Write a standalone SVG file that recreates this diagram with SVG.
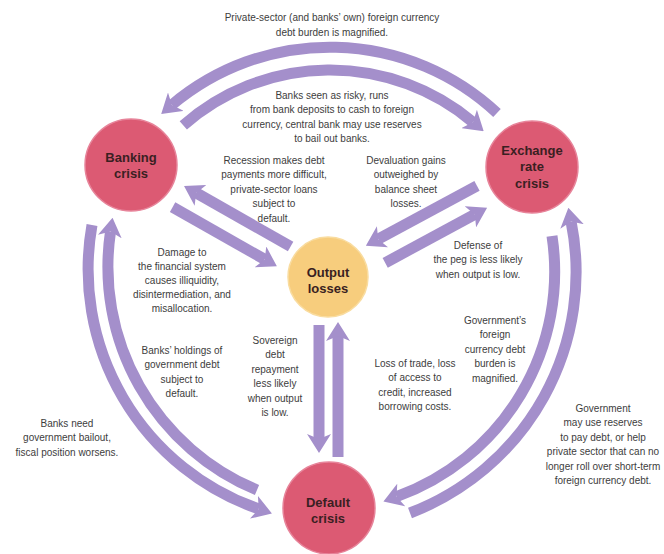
<svg xmlns="http://www.w3.org/2000/svg" width="664" height="554" viewBox="0 0 664 554">
<style>
.band{fill:none;stroke:#a48fcb;stroke-width:11;stroke-linecap:butt;marker-end:url(#head)}
.crisis{fill:#dc5a73;stroke:#e7849a;stroke-width:1.5}
.output{fill:#f7cd7d;stroke:#f9dc9f;stroke-width:1.5}
.node{font-family:"Liberation Sans",Arial,sans-serif;font-weight:bold;font-size:13px;fill:#3a1f22;text-anchor:middle}
.lbl{font-family:"Liberation Sans",Arial,sans-serif;font-size:10px;fill:#3d3d3d;text-anchor:middle}
</style>
<defs>
<marker id="head" markerUnits="userSpaceOnUse" viewBox="0 -12 19 24" refX="5" refY="0" markerWidth="19" markerHeight="24" orient="auto">
<path d="M0,-12 L19,0 L0,12 L5,0 Z" fill="#a48fcb"/>
</marker>
</defs>
<rect width="664" height="554" fill="#ffffff"/>
<g id="connectors">
<path class="band" d="M497,113 A245,245 0 0 0 171.9,104.9"/>
<path class="band" d="M183.3,125.4 A222,222 0 0 1 473,122.2"/>
<path class="band" d="M92,225 A253.6,253.6 0 0 0 258.7,508.9"/>
<path class="band" d="M257,490 A241.5,241.5 0 0 1 110.5,231.6"/>
<path class="band" d="M410,513 A257.7,257.7 0 0 0 571.1,221.6"/>
<path class="band" d="M552,236 A239.1,239.1 0 0 1 396.6,496.7"/>
<path class="band" d="M172.6,207.1 L264.7,259.4"/>
<path class="band" d="M290.6,246.5 L196.2,192.9"/>
<path class="band" d="M477,185.9 L378.2,239.2"/>
<path class="band" d="M385.2,262.8 L474.8,214.4"/>
<path class="band" d="M319,325 L319,439"/>
<path class="band" d="M338,457 L338,336"/>
</g>
<g id="banking-crisis">
<circle class="crisis" cx="131" cy="165" r="46"/>
<text class="node" x="131" y="161.5">Banking</text>
<text class="node" x="131" y="177.5">crisis</text>
</g>
<g id="exchange-rate-crisis">
<circle class="crisis" cx="532" cy="167" r="46"/>
<text class="node" x="532" y="154.5">Exchange</text>
<text class="node" x="532" y="171">rate</text>
<text class="node" x="532" y="187.5">crisis</text>
</g>
<g id="output-losses">
<circle class="output" cx="328" cy="277" r="40"/>
<text class="node" x="328" y="276.5">Output</text>
<text class="node" x="328" y="292.5">losses</text>
</g>
<g id="default-crisis">
<circle class="crisis" cx="329" cy="508" r="46"/>
<text class="node" x="328" y="506.5">Default</text>
<text class="node" x="328" y="522.5">crisis</text>
</g>
<g id="labels">
<text class="lbl" x="332" y="20.5">Private-sector (and banks’ own) foreign currency</text>
<text class="lbl" x="332" y="35.5">debt burden is magnified.</text>
<text class="lbl" x="332" y="98.5">Banks seen as risky, runs</text>
<text class="lbl" x="332" y="113">from bank deposits to cash to foreign</text>
<text class="lbl" x="332" y="127.5">currency, central bank may use reserves</text>
<text class="lbl" x="332" y="142">to bail out banks.</text>
<text class="lbl" x="274" y="163.5">Recession makes debt</text>
<text class="lbl" x="274" y="178">payments more difficult,</text>
<text class="lbl" x="274" y="192.5">private-sector loans</text>
<text class="lbl" x="274" y="207">subject to</text>
<text class="lbl" x="274" y="221.5">default.</text>
<text class="lbl" x="406" y="163.5">Devaluation gains</text>
<text class="lbl" x="406" y="178">outweighed by</text>
<text class="lbl" x="406" y="192.5">balance sheet</text>
<text class="lbl" x="406" y="207">losses.</text>
<text class="lbl" x="182" y="256">Damage to</text>
<text class="lbl" x="182" y="270">the financial system</text>
<text class="lbl" x="182" y="284">causes illiquidity,</text>
<text class="lbl" x="182" y="298">disintermediation, and</text>
<text class="lbl" x="182" y="312">misallocation.</text>
<text class="lbl" x="478" y="248.5">Defense of</text>
<text class="lbl" x="478" y="263">the peg is less likely</text>
<text class="lbl" x="478" y="277.5">when output is low.</text>
<text class="lbl" x="275" y="343.5">Sovereign</text>
<text class="lbl" x="275" y="358">debt</text>
<text class="lbl" x="275" y="372.5">repayment</text>
<text class="lbl" x="275" y="387">less likely</text>
<text class="lbl" x="275" y="401.5">when output</text>
<text class="lbl" x="275" y="416">is low.</text>
<text class="lbl" x="182" y="353.5">Banks’ holdings of</text>
<text class="lbl" x="182" y="368">government debt</text>
<text class="lbl" x="182" y="382.5">subject to</text>
<text class="lbl" x="182" y="397">default.</text>
<text class="lbl" x="67" y="426.5">Banks need</text>
<text class="lbl" x="67" y="441">government bailout,</text>
<text class="lbl" x="67" y="455.5">fiscal position worsens.</text>
<text class="lbl" x="415" y="366.5">Loss of trade, loss</text>
<text class="lbl" x="415" y="381">of access to</text>
<text class="lbl" x="415" y="395.5">credit, increased</text>
<text class="lbl" x="415" y="410">borrowing costs.</text>
<text class="lbl" x="495" y="323.5">Government’s</text>
<text class="lbl" x="495" y="338">foreign</text>
<text class="lbl" x="495" y="352.5">currency debt</text>
<text class="lbl" x="495" y="367">burden is</text>
<text class="lbl" x="495" y="381.5">magnified.</text>
<text class="lbl" x="603" y="411.5">Government</text>
<text class="lbl" x="603" y="426">may use reserves</text>
<text class="lbl" x="603" y="440.5">to pay debt, or help</text>
<text class="lbl" x="603" y="455">private sector that can no</text>
<text class="lbl" x="603" y="469.5">longer roll over short-term</text>
<text class="lbl" x="603" y="484">foreign currency debt.</text>
</g>
</svg>
